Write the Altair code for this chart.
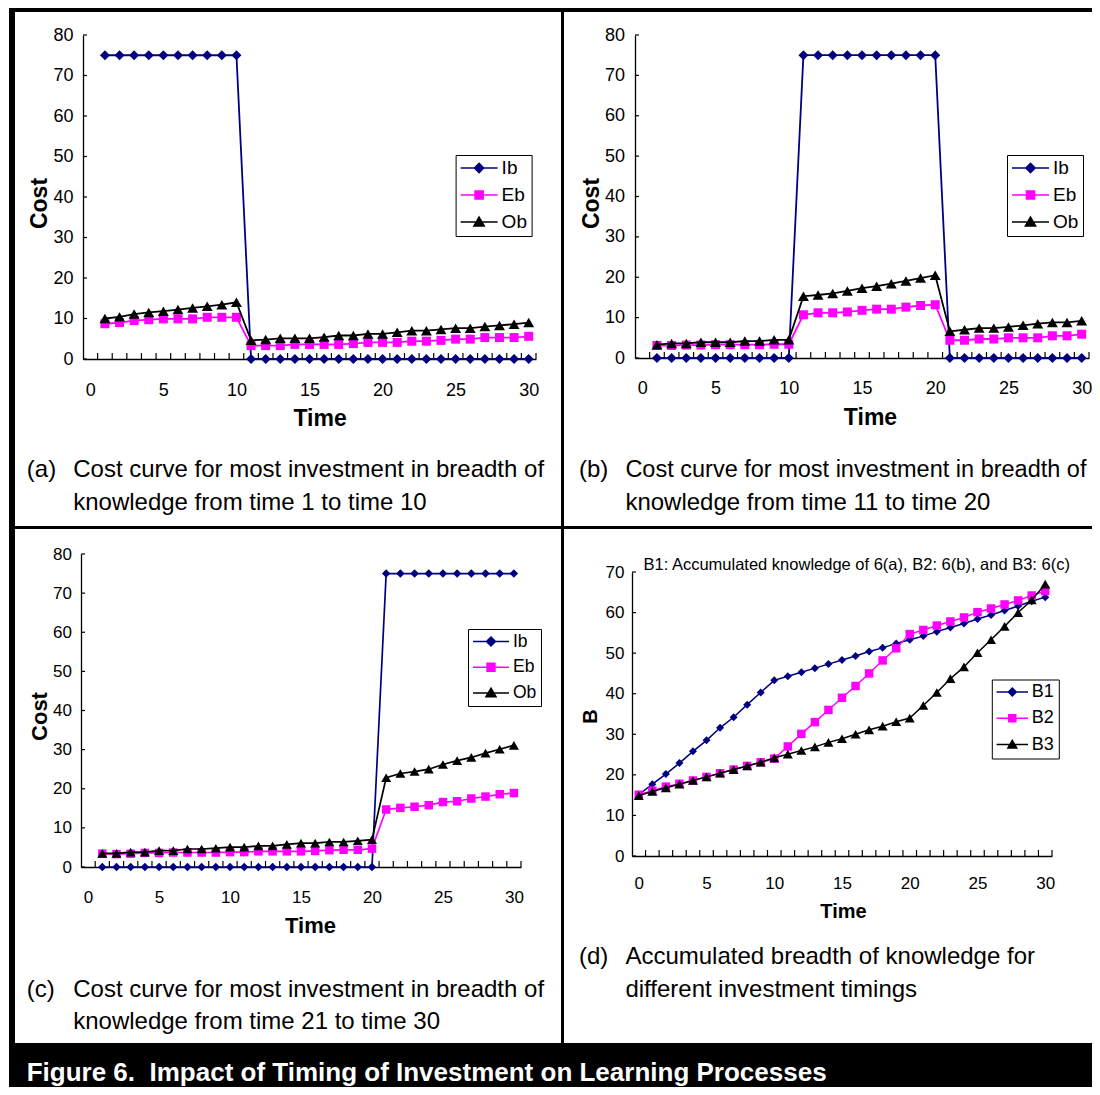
import altair as alt
import pandas as pd

FONT = "Liberation Sans"

# ---------------- data ----------------
TIME_1_30 = [1, 2, 3, 4, 5, 6, 7, 8, 9, 10, 11, 12, 13, 14, 15, 16, 17, 18, 19, 20,
             21, 22, 23, 24, 25, 26, 27, 28, 29, 30]
TIME_0_30 = [0, 1, 2, 3, 4, 5, 6, 7, 8, 9, 10, 11, 12, 13, 14, 15, 16, 17, 18, 19, 20,
             21, 22, 23, 24, 25, 26, 27, 28, 29, 30]

COST_SERIES = ["Ib", "Eb", "Ob"]
B_SERIES = ["B1", "B2", "B3"]
SERIES_COLORS = ["#000080", "#FF00FF", "#000000"]

A_IB = [75, 75, 75, 75, 75, 75, 75, 75, 75, 75, 0, 0, 0, 0, 0, 0, 0, 0, 0, 0,
        0, 0, 0, 0, 0, 0, 0, 0, 0, 0]
A_EB = [8.7, 9.0, 9.5, 9.7, 9.9, 9.9, 9.9, 10.3, 10.3, 10.3, 3.3, 3.3, 3.3, 3.6, 3.6, 3.6,
        3.6, 3.8, 4.1, 4.1, 4.1, 4.4, 4.4, 4.6, 4.9, 4.9, 5.3, 5.3, 5.3, 5.6]
A_OB = [10.0, 10.4, 11.1, 11.5, 11.8, 12.2, 12.6, 13.0, 13.4, 14.0, 4.6, 4.8, 5.1, 5.1, 5.1,
        5.4, 5.8, 5.8, 6.2, 6.2, 6.6, 7.0, 7.0, 7.3, 7.6, 7.6, 8.0, 8.3, 8.6, 9.0]

B_IB = [0, 0, 0, 0, 0, 0, 0, 0, 0, 0, 75, 75, 75, 75, 75, 75, 75, 75, 75, 75,
        0, 0, 0, 0, 0, 0, 0, 0, 0, 0]
B_EB = [3.1, 3.1, 3.2, 3.2, 3.3, 3.3, 3.3, 3.3, 3.4, 3.4, 10.7, 11.2, 11.2, 11.4, 11.8, 12.1,
        12.1, 12.6, 13.0, 13.2, 4.4, 4.4, 4.7, 4.7, 5.0, 5.0, 5.0, 5.5, 5.5, 5.9]
B_OB = [3.3, 3.6, 3.6, 3.9, 3.9, 3.9, 4.2, 4.2, 4.5, 4.5, 15.3, 15.6, 16.0, 16.6, 17.3, 17.8,
        18.4, 19.1, 19.8, 20.5, 6.6, 7.0, 7.4, 7.4, 7.7, 8.1, 8.5, 8.8, 8.8, 9.2]

C_IB = [0, 0, 0, 0, 0, 0, 0, 0, 0, 0, 0, 0, 0, 0, 0, 0, 0, 0, 0, 0,
        75, 75, 75, 75, 75, 75, 75, 75, 75, 75]
C_EB = [3.4, 3.3, 3.4, 3.6, 3.6, 3.7, 3.7, 3.7, 3.7, 3.8, 3.8, 4.0, 4.0, 4.0, 4.0, 4.1,
        4.3, 4.4, 4.4, 4.7, 14.7, 15.1, 15.4, 15.8, 16.6, 16.8, 17.5, 18.0, 18.6, 18.9]
C_OB = [3.5, 3.5, 3.8, 3.8, 4.2, 4.2, 4.6, 4.6, 4.8, 5.1, 5.1, 5.4, 5.4, 5.8, 6.1, 6.1,
        6.4, 6.4, 6.7, 7.0, 22.8, 23.9, 24.4, 25.0, 26.2, 27.2, 28.0, 29.1, 30.1, 31.1]

D_B1 = [15.1, 17.7, 20.2, 22.9, 25.8, 28.5, 31.6, 34.2, 37.3, 40.3, 43.3, 44.3, 45.3, 46.3,
        47.3, 48.3, 49.3, 50.4, 51.3, 52.4, 53.3, 54.2, 55.3, 56.3, 57.3, 58.4, 59.4, 60.5,
        61.6, 62.8, 63.8]
D_B2 = [15.1, 16.1, 17.1, 17.8, 18.6, 19.5, 20.4, 21.3, 22.2, 23.1, 24.0, 27.0, 30.1, 33.0,
        36.0, 39.0, 41.9, 45.0, 48.2, 51.2, 54.7, 55.7, 56.8, 57.8, 58.8, 60.1, 61.0, 62.0,
        63.0, 64.2, 65.3]
D_B3 = [14.9, 15.9, 16.8, 17.7, 18.6, 19.5, 20.4, 21.3, 22.2, 23.1, 24.2, 25.1, 26.0, 26.9,
        28.0, 28.9, 30.0, 31.1, 32.0, 33.1, 34.0, 37.1, 40.3, 43.7, 46.6, 50.1, 53.3, 56.6,
        60.0, 63.1, 67.0]

X_LABELS = [0, 5, 10, 15, 20, 25, 30]
X_TICKS = [i + 0.5 for i in range(31)]
Y_LABELS_80 = [0, 10, 20, 30, 40, 50, 60, 70, 80]
Y_LABELS_70 = [0, 10, 20, 30, 40, 50, 60, 70]

CAP_A = ["Cost curve for most investment in breadth of", "knowledge from time 1 to time 10"]
CAP_B = ["Cost curve for most investment in breadth of", "knowledge from time 11 to time 20"]
CAP_C = ["Cost curve for most investment in breadth of", "knowledge from time 21 to time 30"]
CAP_D = ["Accumulated breadth of knowledge for", "different investment timings"]
D_TITLE = "B1: Accumulated knowledge of 6(a), B2: 6(b), and B3: 6(c)"
FIG_TITLE = "Figure 6. \u00a0Impact of Timing of Investment on Learning Processes"

MARKERS = ["diamond", "square", "triangle-up"]
LEGEND_PATHS = [
    "M-1,0H1M0,-0.25L0.25,0L0,0.25L-0.25,0Z",
    "M-1,0H1M-0.22,-0.22H0.22V0.22H-0.22Z",
    "M-1,0H1M0,-0.27L0.28,0.21H-0.28Z",
]

ONE = pd.DataFrame({"k": [0]})


def rect_layer(x0, x1, y0, y1, color, opacity=1):
    return alt.Chart(ONE).mark_rect(fill=color, strokeWidth=0, fillOpacity=opacity).encode(
        x=alt.value(x0), x2=alt.value(x1), y=alt.value(y0), y2=alt.value(y1))


def text_layer(txt, x, y, fs, weight="normal", color="black", align="left"):
    return alt.Chart(ONE).mark_text(
        text=txt, font=FONT, fontSize=fs, fontWeight=weight, color=color,
        align=align, baseline="middle").encode(x=alt.value(x), y=alt.value(y))


def panel(p):
    names = p["names"]
    cx0, cx1, cy0, cy1 = p["cell"]
    CW, CH = cx1 - cx0, cy1 - cy0
    PL, PT = p["origin"]
    W, H = p["W"], p["H"]
    pl, pt = PL - cx0, PT - cy0
    xsc = alt.Scale(domain=[-0.5, 30.5], nice=False, zero=False, range=[pl, pl + W])
    ysc = alt.Scale(domain=[0, p["ymax"]], nice=False, range=[pt + H, pt])
    cscale = alt.Scale(domain=names, range=SERIES_COLORS)

    xaxis = alt.Axis(
        values=X_LABELS, ticks=False, tickSize=0, grid=False, orient="bottom",
        offset=(pt + H) - CH,
        domainColor="black", domainWidth=1.3, labelAngle=0,
        labelFont=FONT, labelFontSize=p["lab_fs"], labelColor="black",
        labelPadding=p["xlabpad"], labelFlush=False, labelOverlap=False,
        title="Time", titleFont=FONT, titleFontSize=p["title_fs"], titleFontWeight="bold",
        titleColor="black",
        titleX=p["xtitle"][0] - cx0, titleY=p["xtitle"][1] - (PT + H),
        titleAlign="center", titleBaseline="middle")
    yaxis = alt.Axis(
        values=p["yvals"], ticks=False, tickSize=0, grid=False, orient="left",
        offset=-pl,
        domainColor="black", domainWidth=1.3,
        labelFont=FONT, labelFontSize=p["lab_fs"], labelColor="black",
        labelPadding=p["ylabpad"], labelFlush=False, labelOverlap=False,
        title=p["ytitle_text"], titleFont=FONT, titleFontSize=p["title_fs"], titleFontWeight="bold",
        titleColor="black",
        titleX=p["ytitle"][0] - PL, titleY=p["ytitle"][1] - cy0,
        titleAngle=270, titleAlign="center", titleBaseline="middle")

    frames = [pd.DataFrame({"t": p["t"], "v": p["vals"][i], "series": name})
              for i, name in enumerate(names)]
    df = pd.concat(frames, ignore_index=True)

    layers = []
    # legend-carrying layer first (no visible marks)
    lx, ly = p["legend"]
    L = p["leg_L"]
    leg = alt.Legend(
        orient="none", legendX=lx - cx0, legendY=ly - cy0, title=None,
        labelFont=FONT, labelFontSize=p["leg_fs"], labelColor="black", labelOffset=3,
        strokeColor="black", fillColor="white", padding=p["leg_pad"],
        rowPadding=p["leg_rp"], clipHeight=p["leg_ch"],
        symbolSize=L * L, symbolStrokeWidth=1.5, symbolOffset=0)
    layers.append(alt.Chart(df).transform_filter("false").mark_point(
        filled=True, opacity=1, strokeWidth=1.5).encode(
        x=alt.X("t:Q", scale=xsc, axis=xaxis),
        y=alt.Y("v:Q", scale=ysc, axis=yaxis),
        color=alt.Color("series:N", scale=cscale, legend=leg),
        stroke=alt.Stroke("series:N", scale=alt.Scale(domain=names, range=SERIES_COLORS), legend=leg),
        shape=alt.Shape("series:N", scale=alt.Scale(domain=names, range=LEGEND_PATHS), legend=leg)))

    layers.append(rect_layer(0, CW, 0, CH, "white", 0))
    for (x0, x1, y0, y1) in p["frame"]:
        layers.append(rect_layer(x0 - cx0, x1 - cx0, y0 - cy0, y1 - cy0, "black"))

    # inward ticks
    layers.append(alt.Chart(pd.DataFrame({"xt": X_TICKS})).mark_rule(
        color="black", strokeWidth=1.2).encode(
        x=alt.X("xt:Q", scale=xsc, axis=xaxis), y=alt.value(pt + H), y2=alt.value(pt + H - 6)))
    layers.append(alt.Chart(pd.DataFrame({"yt": p["yvals"]})).mark_rule(
        color="black", strokeWidth=1.2).encode(
        y=alt.Y("yt:Q", scale=ysc, axis=yaxis), x=alt.value(pl), x2=alt.value(pl + 4)))

    for i, sub in enumerate(frames):
        enc = dict(
            x=alt.X("t:Q", scale=xsc, axis=xaxis),
            y=alt.Y("v:Q", scale=ysc, axis=yaxis),
            color=alt.Color("series:N", scale=cscale, legend=leg))
        layers.append(alt.Chart(sub).mark_line(strokeWidth=p["lw"]).encode(**enc))
        layers.append(alt.Chart(sub).mark_point(
            shape=MARKERS[i], filled=True, size=p["msize"][i], opacity=1).encode(**enc))

    # captions
    cxl, cxt = p["cap_x"]
    cy1_, cy2_ = p["cap_y"]
    layers.append(text_layer(p["cap_label"], cxl - cx0, cy1_ - cy0, p["cap_fs"]))
    layers.append(text_layer(p["cap_lines"][0], cxt - cx0, cy1_ - cy0, p["cap_fs1"]))
    layers.append(text_layer(p["cap_lines"][1], cxt - cx0, cy2_ - cy0, p["cap_fs"]))
    if "top_title" in p:
        tx, ty = p["top_title_pos"]
        layers.append(text_layer(p["top_title"], tx - cx0, ty - cy0, p["top_title_fs"], align="center"))

    return alt.layer(*layers).properties(width=CW, height=CH)


RIGHT = 1092
BOTTOM = 1087

PA = dict(names=COST_SERIES, t=TIME_1_30, vals=[A_IB, A_EB, A_OB],
          origin=(83, 35), W=453, H=324, ymax=80, yvals=Y_LABELS_80,
          cell=(8, 564, 8, 529),
          frame=[(9, 564, 8, 12), (9, 15, 8, 529), (561, 564, 8, 529), (9, 564, 526, 529)],
          lab_fs=18, xlabpad=22, ylabpad=10, title_fs=23, ytitle_text="Cost",
          ytitle=(39.3, 203), xtitle=(319.6, 418),
          cap_label="(a)", cap_lines=CAP_A, cap_x=(26.8, 73.2), cap_y=(470, 503),
          cap_fs=24, cap_fs1=24,
          legend=(455.6, 155), leg_fs=19, leg_L=37, leg_pad=4, leg_rp=8, leg_ch=18,
          msize=[100, 81, 120], lw=1.8)

PB = dict(names=COST_SERIES, t=TIME_1_30, vals=[B_IB, B_EB, B_OB],
          origin=(635, 35), W=454, H=323, ymax=80, yvals=Y_LABELS_80,
          cell=(564, RIGHT, 8, 529),
          frame=[(564, RIGHT, 8, 12), (564, RIGHT, 526, 529)],
          lab_fs=18, xlabpad=21, ylabpad=10.4, title_fs=23, ytitle_text="Cost",
          ytitle=(591, 203), xtitle=(870, 417),
          cap_label="(b)", cap_lines=CAP_B, cap_x=(579, 625.4), cap_y=(470, 503),
          cap_fs=24, cap_fs1=23.5,
          legend=(1007, 155), leg_fs=19, leg_L=37, leg_pad=4, leg_rp=8, leg_ch=18,
          msize=[100, 81, 120], lw=1.8)

PC = dict(names=COST_SERIES, t=TIME_1_30, vals=[C_IB, C_EB, C_OB],
          origin=(81, 554), W=440, H=313, ymax=80, yvals=Y_LABELS_80,
          cell=(8, 564, 529, 1043),
          frame=[(9, 15, 529, 1043), (561, 564, 529, 1043)],
          lab_fs=17, xlabpad=22, ylabpad=9.5, title_fs=22, ytitle_text="Cost",
          ytitle=(39.3, 716), xtitle=(310, 925),
          cap_label="(c)", cap_lines=CAP_C, cap_x=(26.8, 73.2), cap_y=(989.6, 1021.5),
          cap_fs=24, cap_fs1=24,
          legend=(468, 629), leg_fs=17.5, leg_L=36, leg_pad=4, leg_rp=7.75, leg_ch=17,
          msize=[72, 72, 100], lw=1.7)

PD = dict(names=B_SERIES, t=TIME_0_30, vals=[D_B1, D_B2, D_B3],
          origin=(632, 572), W=420, H=284, ymax=70, yvals=Y_LABELS_70,
          cell=(564, RIGHT, 529, 1043), frame=[],
          lab_fs=17, xlabpad=19.5, ylabpad=8, title_fs=20, ytitle_text="B",
          ytitle=(590.3, 716), xtitle=(843, 911.6),
          cap_label="(d)", cap_lines=CAP_D, cap_x=(579, 625.4), cap_y=(956.6, 989.6),
          cap_fs=24, cap_fs1=24,
          legend=(991.8, 679.5), leg_fs=18, leg_L=31.4, leg_pad=4, leg_rp=7.3, leg_ch=17,
          msize=[64, 72, 100], lw=1.5,
          top_title=D_TITLE, top_title_pos=(856.7, 564.7), top_title_fs=16.5)

BW, BH = RIGHT - 8, BOTTOM - 1043
bar = alt.layer(
    rect_layer(0, BW, 0, BH, "white"),
    rect_layer(1, BW, 0, BH, "black"),
    text_layer(FIG_TITLE, 26.7 - 8, 1073 - 1043, 26, weight="bold", color="white"),
).properties(width=BW, height=BH)

RES = dict(x="independent", y="independent", color="independent",
           stroke="independent", shape="independent")

row1 = alt.hconcat(panel(PA), panel(PB), spacing=0).resolve_scale(**RES)
row2 = alt.hconcat(panel(PC), panel(PD), spacing=0).resolve_scale(**RES)

chart = alt.vconcat(row1, row2, bar, spacing=0).resolve_scale(**RES).properties(
    padding={"left": 0, "top": 0, "right": 0, "bottom": 0}
).configure_view(strokeWidth=0)

chart.save("out.html", embed_options={"renderer": "svg", "actions": False})
